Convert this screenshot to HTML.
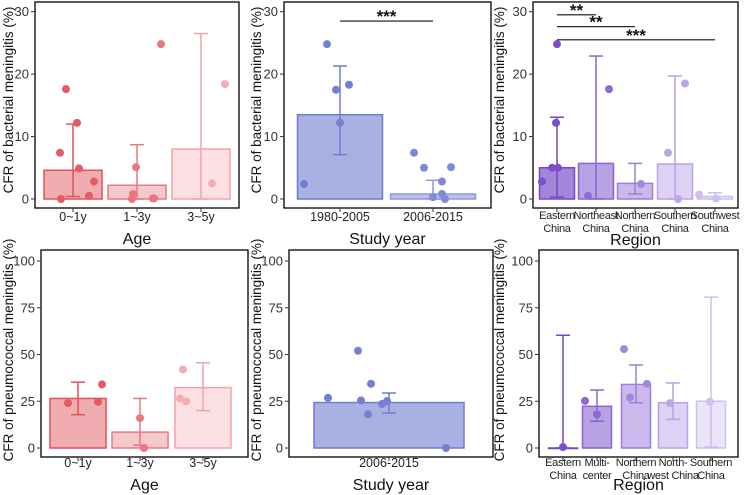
<!DOCTYPE html>
<html><head><meta charset="utf-8"><style>
html,body{margin:0;padding:0;background:#fff}
svg{display:block;font-family:"Liberation Sans",Arial,sans-serif}
</style></head><body>
<svg id="c" width="746" height="495" viewBox="0 0 746 495"></svg>
<script>
// ---- data ----
const ageCats = ["0~1y","1~3y","3~5y"];
const ageBactMean = [4.6, 2.2, 8.0];
const ageBactLo = [0.4, 0, 0];
const ageBactHi = [12.0, 8.7, 26.5];
const ageBactPts = [[7.4,17.6,12.2,4.9,0,2.8,0.5],[5.1,0.8,0,0.1,0.1,24.8],[2.5,18.4]];
const ageBactJit = [[-13,-7,4,6,-12,21,16],[-1,-4,-5,16,17,24],[11,24]];

const yearCats = ["1980-2005","2006-2015"];
const yearBactMean = [13.5, 0.8];
const yearBactLo = [7.1, 0];
const yearBactHi = [21.3, 3.0];
const yearBactPts = [[24.8,17.5,18.3,12.2,2.4],[7.4,5.0,5.1,2.8,0.8,0.3,0]];
const yearBactJit = [[-13,-4,9,0,-36],[-19,-9,18,9,9,0,12]];

const regCats = [["Eastern","China"],["Northeast","China"],["Northern","China"],["Southern","China"],["Southwest","China"]];
const regBactMean = [5.0, 5.7, 2.5, 5.6, 0.4];
const regBactLo = [0.3, 0, 0.8, 0, 0];
const regBactHi = [13.1, 22.9, 5.7, 19.7, 1.0];
const regBactPts = [[24.8,12.2,5.0,5.0,2.8],[17.6,0.5],[2.4],[7.4,18.5,0],[0.7,0.1]];
const regBactJit = [[0,-1,-5,1,-15],[13,-8],[6],[-7,10,3],[-16,1]];

const agePneuMean = [26.5, 8.5, 32.3];
const agePneuLo = [17.8, 1.5, 20.0];
const agePneuHi = [35.2, 26.5, 45.6];
const agePneuPts = [[24,34,24.7],[16,0],[42,26.5,25]];
const agePneuJit = [[-10,24,20],[0,4],[-20,-23,-17]];

const yearPneuCats = ["2006-2015"];
const yearPneuMean = [24.3];
const yearPneuLo = [18.7];
const yearPneuHi = [29.4];
const yearPneuPts = [[26.8,52,25.4,34.3,18,23.5,25.1,0]];
const yearPneuJit = [[-61,-31,-28,-18,-21,-7,-2,57]];

const regPneuCats = [["Eastern","China"],["Multi-","center"],["Northern","China"],["North-","west China"],["Southern","China"]];
const regPneuMean = [0, 22.3, 34.0, 24.2, 25.0];
const regPneuLo = [0, 14.3, 24.2, 15.3, 0.5];
const regPneuHi = [60.3, 31.0, 44.4, 34.8, 80.7];
const regPneuPts = [[0.5],[25.2,18],[52.9,27,34.3],[24],[24.8]];
const regPneuJit = [[0],[-12,0],[-12,-6,11],[-3],[-1]];

const bactTicks = [0,10,20,30];
const pneuTicks = [0,25,50,75,100];

// ---- drawing ----
const svg = document.getElementById('c');
const NS = 'http://www.w3.org/2000/svg';
function mk(tag, attrs, parent){const e=document.createElementNS(NS,tag);for(const k in attrs)e.setAttribute(k,attrs[k]);(parent||svg).appendChild(e);return e;}

const red = [{f:'rgba(224,90,100,0.5)',s:'#e2505a',p:'#e65a63'},{f:'rgba(230,120,128,0.4)',s:'#e87880',p:'#e8777e'},{f:'#fde0e3',s:'#f2a3a9',p:'#f3aeb3'}];
const blue = [{f:'#a9b0e2',s:'#6f7bd0',p:'#7480d2'},{f:'#bcc2ea',s:'#8f99db',p:'#7f8ad6'}];
const purp = [{f:'#a385dc',s:'#7347c8',p:'#7a4fcb'},{f:'#b9a2e4',s:'#8a64d2',p:'#8e6ad4'},{f:'#cbb9ec',s:'#9d7edb',p:'#a488de'},{f:'#ddd2f3',s:'#b8a2e6',p:'#bba7e8'},{f:'#ebe4f8',s:'#cdbfee',p:'#cdbff0'}];

function panel(o){
  const g = mk('g',{});
  
  
  const Y = v => o.y0 - (v - 0)/o.ymax*(o.y0-o.ytop);
  const n = o.cats.length;
  const X = i => o.cx[i];
  mk('rect',{x:o.L,y:o.T,width:o.R-o.L,height:o.B-o.T,fill:'none',stroke:'#000','stroke-width':1.3},g);
  o.ticks.forEach(t=>{
    const y=Y(t);
    mk('line',{x1:o.L-4,x2:o.L,y1:y,y2:y,stroke:'#333'},g);
    const tx=mk('text',{x:o.L-6,y:y+4.5,'text-anchor':'end','font-size':13,fill:'#333'},g);tx.textContent=t;
  });
  const yt=mk('text',{x:0,y:0,transform:`translate(${o.ytx},${o.ytc})  rotate(-90)`,'text-anchor':'middle','font-size':o.yfs,fill:'#111'},g);
  yt.textContent=o.ytitle;
  
  
  const xt=mk('text',{x:(o.L+o.R)/2,y:o.xty,'text-anchor':'middle','font-size':16,fill:'#111'},g);
  xt.textContent=o.xtitle;
  
  
  for(let i=0;i<n;i++){
    const c=o.col[i], cx=X(i);
    mk('line',{x1:cx,x2:cx,y1:o.B,y2:o.B+4,stroke:'#333'},g);
    const lab=Array.isArray(o.cats[i])?o.cats[i]:[o.cats[i]];
    lab.forEach((s,k)=>{const t=mk('text',{x:cx,y:o.tly+k*13,'text-anchor':'middle','font-size':lab.length>1?11:12.5,'letter-spacing':lab.length>1?'-0.3':'0',fill:'#222'},g);t.textContent=s;});
    const top=Y(o.mean[i]);
    const bar=mk('rect',{x:cx-o.bw/2,y:top,width:o.bw,height:Math.max(Y(0)-top,0.5),fill:c.f,stroke:c.s,'stroke-width':1.5},g);
    
    
    const lo=Y(o.lo[i]),hi=Y(o.hi[i]);
    mk('line',{x1:cx,x2:cx,y1:lo,y2:hi,stroke:c.s,'stroke-width':1.5},g);
    mk('line',{x1:cx-7,x2:cx+7,y1:lo,y2:lo,stroke:c.s,'stroke-width':1.5},g);
    mk('line',{x1:cx-7,x2:cx+7,y1:hi,y2:hi,stroke:c.s,'stroke-width':1.5},g);
    o.pts[i].forEach((v,k)=>{
      const p=mk('circle',{cx:cx+o.jit[i][k],cy:Y(v),r:4,fill:c.p},g);
      
      
    });
  }
  (o.sig||[]).forEach(s=>{
    const y=Y(s.v);
    mk('line',{x1:X(s.a),x2:X(s.b),y1:y,y2:y,stroke:'#111','stroke-width':1.2},g);
    const t=mk('text',{x:(X(s.a)+X(s.b))/2,y:y+1,'text-anchor':'middle','font-size':17,'font-weight':'bold',fill:'#111'},g);
    t.textContent=s.t;
    
    
  });
}

const bT={T:2,B:208,y0:199,ytop:11.7,ymax:30,ticks:bactTicks,ytitle:'CFR of bacterial meningitis (%)',tly:221,xty:244,yfs:13.5,ytc:100};
const pT={T:250,B:457,y0:448,ytop:261,ymax:100,ticks:pneuTicks,ytitle:'CFR of pneumococcal meningitis (%)',tly:467,xty:490,yfs:13.5,ytc:350};

panel(Object.assign({},bT,{name:'panel-age-bacterial',L:35,R:239,ytx:13,cx:[73,137,201],bw:58,cats:ageCats,mean:ageBactMean,lo:ageBactLo,hi:ageBactHi,pts:ageBactPts,jit:ageBactJit,col:red,xtitle:'Age'}));
panel(Object.assign({},bT,{name:'panel-year-bacterial',L:284,R:491,ytx:261,cx:[340,433],bw:85,cats:yearCats,mean:yearBactMean,lo:yearBactLo,hi:yearBactHi,pts:yearBactPts,jit:yearBactJit,col:blue,xtitle:'Study year',sig:[{a:0,b:1,v:28.5,t:'***'}]}));
panel(Object.assign({},bT,{name:'panel-region-bacterial',L:533,R:738,ytx:504,cx:[557,596,635,675,715],bw:35,cats:regCats,mean:regBactMean,lo:regBactLo,hi:regBactHi,pts:regBactPts,jit:regBactJit,col:purp,xtitle:'Region',tly:219,xty:245,sig:[{a:0,b:1,v:29.5,t:'**'},{a:0,b:2,v:27.6,t:'**'},{a:0,b:4,v:25.5,t:'***'}]}));
panel(Object.assign({},pT,{name:'panel-age-pneumococcal',L:41,R:248,ytx:13,cx:[78,140,203],bw:56,cats:ageCats,mean:agePneuMean,lo:agePneuLo,hi:agePneuHi,pts:agePneuPts,jit:agePneuJit,col:red,xtitle:'Age'}));
panel(Object.assign({},pT,{name:'panel-year-pneumococcal',L:289,R:493,ytx:261,cx:[389],bw:150,cats:yearPneuCats,mean:yearPneuMean,lo:yearPneuLo,hi:yearPneuHi,pts:yearPneuPts,jit:yearPneuJit,col:blue,xtitle:'Study year'}));
panel(Object.assign({},pT,{name:'panel-region-pneumococcal',L:539,R:738,ytx:504,cx:[563,597,636,673,711],bw:29,cats:regPneuCats,mean:regPneuMean,lo:regPneuLo,hi:regPneuHi,pts:regPneuPts,jit:regPneuJit,col:purp,xtitle:'Region',tly:466,xty:490}));
</script>
</body></html>
